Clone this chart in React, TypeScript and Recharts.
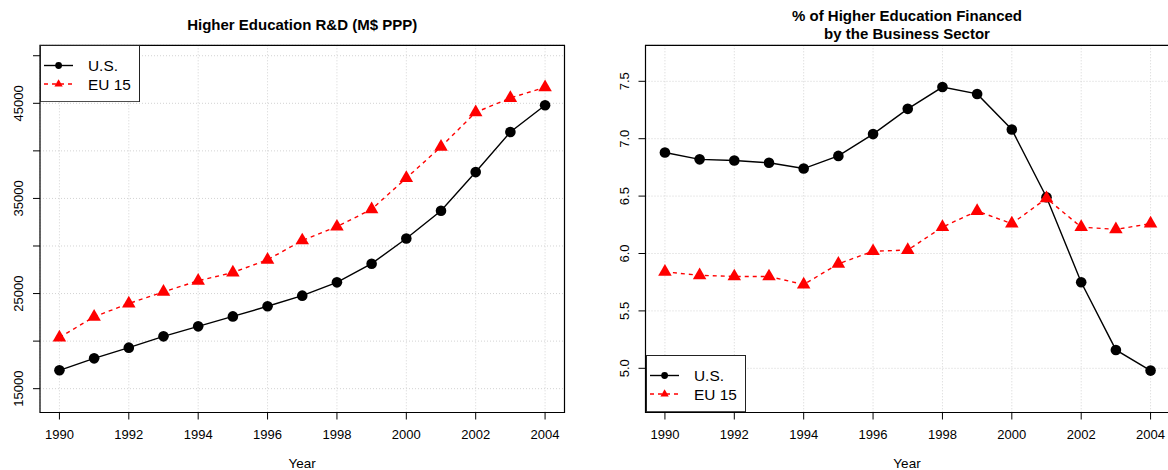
import React from 'react';
import { LineChart, Line, XAxis, YAxis, CartesianGrid, ReferenceArea, Legend } from 'recharts';

const years = [1990, 1991, 1992, 1993, 1994, 1995, 1996, 1997, 1998, 1999, 2000, 2001, 2002, 2003, 2004];
const usRD = [16930, 18190, 19310, 20500, 21550, 22600, 23660, 24780, 26180, 28140, 30790, 33700, 37770, 41980, 44790];
const euRD = [20380, 22560, 23950, 25180, 26340, 27210, 28550, 30580, 32030, 33860, 37140, 40430, 44050, 45560, 46680];
const usPct = [6.88, 6.82, 6.81, 6.79, 6.74, 6.85, 7.04, 7.26, 7.45, 7.39, 7.08, 6.49, 5.75, 5.16, 4.98];
const euPct = [5.84, 5.81, 5.8, 5.8, 5.73, 5.91, 6.02, 6.03, 6.23, 6.37, 6.26, 6.48, 6.23, 6.21, 6.26];

const seriesNames = ['U.S.', 'EU 15'];
const titleLeft = ['Higher Education R&D (M$ PPP)'];
const titleRight = ['% of Higher Education Financed', 'by the Business Sector'];
const xLabel = 'Year';

const xTicks = [1990, 1992, 1994, 1996, 1998, 2000, 2002, 2004];
const xDomain = [1989.44, 2004.56];
const rdTicks = [15000, 20000, 25000, 30000, 35000, 40000, 45000, 50000];
const rdLabels = [15000, 25000, 35000, 45000];
const rdDomain = [12495, 51098];
const pctTicks = [5.0, 5.5, 6.0, 6.5, 7.0, 7.5];
const pctLabels = [5.0, 5.5, 6.0, 6.5, 7.0, 7.5];
const pctDomain = [4.615, 7.8136];

const rdData = years.map((year, i) => ({ year, us: usRD[i], eu: euRD[i] }));
const pctData = years.map((year, i) => ({ year, us: usPct[i], eu: euPct[i] }));

const FONT = '"Liberation Sans", Arial, Helvetica, sans-serif';
const RED = '#ff0000';

const XTick = (props: any) => (
  <text x={props.x} y={props.y} textAnchor="middle" fontSize={13} fontFamily={FONT} fill="#000">
    {props.payload.value}
  </text>
);

const makeYTick = (labels: number[], digits: number) => (props: any) => {
  const v = props.payload.value;
  if (!labels.some((l) => Math.abs(l - v) < 1e-9)) return <g />;
  return (
    <text
      x={props.x}
      y={props.y}
      transform={`rotate(-90, ${props.x}, ${props.y})`}
      textAnchor="middle"
      fontSize={13}
      fontFamily={FONT}
      fill="#000"
    >
      {v.toFixed(digits)}
    </text>
  );
};

const CircleDot = (props: any) => {
  if (props.cx == null || props.cy == null) return <g key={`c${props.index}`} />;
  return <circle key={`c${props.index}`} cx={props.cx} cy={props.cy} r={5.3} fill="#000" />;
};

const TriDot = (props: any) => {
  if (props.cx == null || props.cy == null) return <g key={`t${props.index}`} />;
  const r = 7.8;
  const h = (r * Math.sqrt(3)) / 2;
  const { cx, cy } = props;
  return (
    <path
      key={`t${props.index}`}
      d={`M${cx},${cy - r}L${cx + h},${cy + r / 2}L${cx - h},${cy + r / 2}Z`}
      fill={RED}
    />
  );
};

const LegendBox = (props: any) => {
  const payload = [...(props.payload || [])].sort(
    (a: any, b: any) => seriesNames.indexOf(a.value) - seriesNames.indexOf(b.value)
  );
  const rows = [20.5, 39];
  return (
    <svg width={100} height={57.2} style={{ display: 'block' }}>
      <rect x={0.5} y={0.5} width={99} height={56.2} fill="#fff" stroke="#222" strokeWidth={1} />
      {payload.map((p: any, i: number) => {
        const y = rows[i];
        const isUS = p.value === seriesNames[0];
        return (
          <g key={i}>
            <line
              x1={4}
              x2={33}
              y1={y}
              y2={y}
              stroke={isUS ? '#000' : RED}
              strokeWidth={1.4}
              strokeDasharray={isUS ? undefined : '4 4'}
            />
            {isUS ? (
              <circle cx={18.6} cy={y} r={3.4} fill="#000" />
            ) : (
              <path
                d={`M18.6,${y - 4.8}L${18.6 + 4.16},${y + 2.4}L${18.6 - 4.16},${y + 2.4}Z`}
                fill={RED}
              />
            )}
            <text x={48} y={y + 5.5} fontSize={15.4} fontFamily={FONT} fill="#000">
              {p.value}
            </text>
          </g>
        );
      })}
    </svg>
  );
};

type PanelProps = {
  data: any[];
  width: number;
  yWidth: number;
  marginRight: number;
  yTicks: number[];
  yDomain: number[];
  yTick: any;
  legendLeft: number;
  legendTop: number;
};

const Panel = ({ data, width, yWidth, marginRight, yTicks, yDomain, yTick, legendLeft, legendTop }: PanelProps) => (
  <LineChart width={width} height={470} data={data} margin={{ top: 45.3, right: marginRight, bottom: 0, left: 0 }}>
    <CartesianGrid stroke="#d3d3d3" strokeDasharray="1 2" />
    <XAxis
      dataKey="year"
      type="number"
      domain={xDomain}
      ticks={xTicks}
      interval={0}
      height={57.5}
      tickSize={7}
      tickMargin={19.8}
      axisLine={false}
      tickLine={{ stroke: '#000', strokeWidth: 1 }}
      tick={<XTick />}
    />
    <YAxis
      type="number"
      domain={yDomain}
      ticks={yTicks}
      interval={0}
      width={yWidth}
      tickSize={7}
      tickMargin={9.5}
      axisLine={false}
      tickLine={{ stroke: '#000', strokeWidth: 1 }}
      tick={yTick}
    />
    <ReferenceArea
      x1={xDomain[0]}
      x2={xDomain[1]}
      y1={yDomain[0]}
      y2={yDomain[1]}
      fill="none"
      fillOpacity={0}
      stroke="#000"
      strokeWidth={1.2}
      ifOverflow="visible"
    />
    <Line
      type="linear"
      dataKey="us"
      name={seriesNames[0]}
      stroke="#000"
      strokeWidth={1.4}
      dot={CircleDot}
      activeDot={false}
      isAnimationActive={false}
    />
    <Line
      type="linear"
      dataKey="eu"
      name={seriesNames[1]}
      stroke={RED}
      strokeWidth={1.4}
      strokeDasharray="4 4"
      dot={TriDot}
      activeDot={false}
      isAnimationActive={false}
    />
    <Legend
      layout="vertical"
      align="center"
      verticalAlign="middle"
      content={<LegendBox />}
      wrapperStyle={{ position: 'absolute', left: legendLeft, top: legendTop, width: 100, height: 57.2, margin: 0 }}
    />
  </LineChart>
);

export default function App() {
  return (
    <div style={{ position: 'absolute', left: 0, top: 0, width: 1168, height: 470, overflow: 'hidden', background: '#fff' }}>
      <div style={{ position: 'absolute', left: 0, top: 0 }}>
        <Panel
          data={rdData}
          width={584}
          yWidth={40}
          marginRight={19.5}
          yTicks={rdTicks}
          yDomain={rdDomain}
          yTick={makeYTick(rdLabels, 0)}
          legendLeft={40}
          legendTop={45.3}
        />
      </div>
      <div style={{ position: 'absolute', left: 584, top: 0 }}>
        <Panel
          data={pctData}
          width={600}
          yWidth={61.5}
          marginRight={14}
          yTicks={pctTicks}
          yDomain={pctDomain}
          yTick={makeYTick(pctLabels, 1)}
          legendLeft={61.5}
          legendTop={355.3}
        />
      </div>
      <svg
        width={1168}
        height={470}
        style={{ position: 'absolute', left: 0, top: 0, pointerEvents: 'none' }}
      >
        {titleLeft.map((t, i) => (
          <text key={t} x={302.2} y={30 + i * 18.3} textAnchor="middle" fontSize={15} fontWeight="bold" fontFamily={FONT} fill="#000">
            {t}
          </text>
        ))}
        {titleRight.map((t, i) => (
          <text key={t} x={907} y={20.5 + i * 18.3} textAnchor="middle" fontSize={15} fontWeight="bold" fontFamily={FONT} fill="#000">
            {t}
          </text>
        ))}
        <text x={302.2} y={468.3} textAnchor="middle" fontSize={13.5} fontFamily={FONT} fill="#000">
          {xLabel}
        </text>
        <text x={907} y={468.3} textAnchor="middle" fontSize={13.5} fontFamily={FONT} fill="#000">
          {xLabel}
        </text>
      </svg>
    </div>
  );
}
